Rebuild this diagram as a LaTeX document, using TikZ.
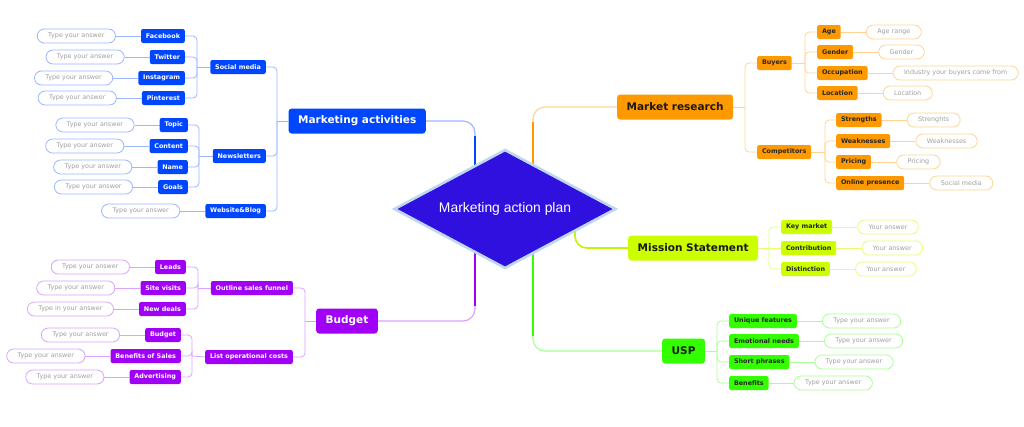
\documentclass[tikz,border=0pt]{standalone}
\usepackage{fontspec}
\setmainfont{DejaVu Sans}
\newfontfamily\planfont{Liberation Sans}
\usetikzlibrary{positioning,shapes.geometric,backgrounds}

\definecolor{planfill}{HTML}{2F10DF}
\definecolor{planedge}{HTML}{BDD7EE}
\definecolor{mablue}{HTML}{0046FF}
\definecolor{malight}{HTML}{9CB6FF}
\definecolor{bdpurple}{HTML}{A000F5}
\definecolor{bdlight}{HTML}{D9A3FF}
\definecolor{mrorange}{HTML}{FF9900}
\definecolor{mrlight}{HTML}{FFD493}
\definecolor{mslime}{HTML}{CCFF00}
\definecolor{mslight}{HTML}{E3FF73}
\definecolor{uspgreen}{HTML}{33FF00}
\definecolor{usplight}{HTML}{A8FF94}
\definecolor{anstext}{HTML}{A0A0A0}

\begin{document}
\begin{tikzpicture}[x=1pt, y=-1pt, node distance=25pt]

    % Estilos
    \tikzset{
        plan/.style={diamond, aspect=1.85, minimum width=222pt, minimum height=119pt,
            inner sep=0pt, fill=planfill, draw=planedge, line width=2.6pt, text=white,
            font=\planfont\fontsize{13.9}{15}\selectfont},
        topic/.style={rounded corners=3pt, inner xsep=9.5pt, inner ysep=0pt, minimum height=25pt,
            font=\fontsize{10.5}{12}\selectfont\bfseries},
        leaf/.style={rounded corners=2pt, inner xsep=4.8pt, inner ysep=0pt, minimum height=14pt,
            font=\fontsize{6.4}{7}\selectfont\bfseries},
        answer/.style={draw, line width=0.8pt, rounded corners=7pt, inner xsep=11pt, inner ysep=0pt,
            minimum height=14pt, fill=white, text=anstext, font=\fontsize{6.4}{7}\selectfont},
        twig/.style={line width=0.8pt, rounded corners=4pt},
        limb/.style={line width=1.2pt, rounded corners=12pt},
        trunk/.style={line width=2.2pt},
        elbow/.style={to path={|- (\tikztotarget)}}
    }
    \useasboundingbox (0,0) rectangle (1024,426);

    % Nodo central
    \node[plan] (plan) at (505,209) {Marketing action plan};

    % Marketing activities
    \node[topic, fill=mablue, text=white, anchor=east] (ma) at (426,121) {Marketing activities};
    \node[leaf, fill=mablue, text=white, anchor=east] (sm) at (266,67) {Social media};
    \node[leaf, fill=mablue, text=white, anchor=east] (nl) at (266,156) {Newsletters};
    \node[leaf, fill=mablue, text=white, anchor=east] (wb) at (266,211) {Website\&Blog};
    \node[leaf, fill=mablue, text=white, anchor=east] (fb) at (185,36) {Facebook};
    \node[leaf, fill=mablue, text=white, anchor=east] (tw) at (185,57) {Twitter};
    \node[leaf, fill=mablue, text=white, anchor=east] (ig) at (185,78) {Instagram};
    \node[leaf, fill=mablue, text=white, anchor=east] (pi) at (185,98) {Pinterest};
    \node[leaf, fill=mablue, text=white, anchor=east] (tp) at (188,125) {Topic};
    \node[leaf, fill=mablue, text=white, anchor=east] (ct) at (188,146) {Content};
    \node[leaf, fill=mablue, text=white, anchor=east] (nm) at (188,167) {Name};
    \node[leaf, fill=mablue, text=white, anchor=east] (gl) at (188,187) {Goals};
    \node[answer, draw=malight, left=of fb] (fba) {Type your answer};
    \node[answer, draw=malight, left=of tw] (twa) {Type your answer};
    \node[answer, draw=malight, left=of ig] (iga) {Type your answer};
    \node[answer, draw=malight, left=of pi] (pia) {Type your answer};
    \node[answer, draw=malight, left=of tp] (tpa) {Type your answer};
    \node[answer, draw=malight, left=of ct] (cta) {Type your answer};
    \node[answer, draw=malight, left=of nm] (nma) {Type your answer};
    \node[answer, draw=malight, left=of gl] (gla) {Type your answer};
    \node[answer, draw=malight, left=of wb] (wba) {Type your answer};
    \coordinate (jma) at (277,121);
    \coordinate (jsm) at (197,67);
    \coordinate (jnl) at (199,156);
    \coordinate (kma) at (475,136);
    \coordinate (pma) at (475,209);

    % Budget
    \node[topic, fill=bdpurple, text=white, anchor=east] (bd) at (378,321) {Budget};
    \node[leaf, fill=bdpurple, text=white, anchor=east] (sf) at (293,288) {Outline sales funnel};
    \node[leaf, fill=bdpurple, text=white, anchor=east] (oc) at (293,357) {List operational costs};
    \node[leaf, fill=bdpurple, text=white, anchor=east] (ld) at (186,267) {Leads};
    \node[leaf, fill=bdpurple, text=white, anchor=east] (sv) at (186,288) {Site visits};
    \node[leaf, fill=bdpurple, text=white, anchor=east] (nd) at (186,309) {New deals};
    \node[leaf, fill=bdpurple, text=white, anchor=east] (bg) at (181,335) {Budget};
    \node[leaf, fill=bdpurple, text=white, anchor=east] (bs) at (181,356) {Benefits of Sales};
    \node[leaf, fill=bdpurple, text=white, anchor=east] (ad) at (181,377) {Advertising};
    \node[answer, draw=bdlight, left=of ld] (lda) {Type your answer};
    \node[answer, draw=bdlight, left=of sv] (sva) {Type your answer};
    \node[answer, draw=bdlight, left=of nd] (nda) {Type in your answer};
    \node[answer, draw=bdlight, left=of bg] (bga) {Type your answer};
    \node[answer, draw=bdlight, left=of bs] (bsa) {Type your answer};
    \node[answer, draw=bdlight, left=of ad] (ada) {Type your answer};
    \coordinate (jbd) at (305,321);
    \coordinate (jsf) at (198,288);
    \coordinate (joc) at (192,356);
    \coordinate (kbd) at (475,306);
    \coordinate (pbd) at (475,209);

    % Market research
    \node[topic, fill=mrorange, text=black!90, anchor=west] (mr) at (617,107) {Market research};
    \node[leaf, fill=mrorange, text=black!85, anchor=west] (by) at (757,63) {Buyers};
    \node[leaf, fill=mrorange, text=black!85, anchor=west] (cp) at (757,152) {Competitors};
    \node[leaf, fill=mrorange, text=black!85, anchor=west] (ag) at (817,32) {Age};
    \node[leaf, fill=mrorange, text=black!85, anchor=west] (gd) at (817,52) {Gender};
    \node[leaf, fill=mrorange, text=black!85, anchor=west] (oo) at (817,73) {Occupation};
    \node[leaf, fill=mrorange, text=black!85, anchor=west] (lc) at (817,93) {Location};
    \node[leaf, fill=mrorange, text=black!85, anchor=west] (st) at (836,120) {Strengths};
    \node[leaf, fill=mrorange, text=black!85, anchor=west] (wk) at (836,141) {Weaknesses};
    \node[leaf, fill=mrorange, text=black!85, anchor=west] (pr) at (836,162) {Pricing};
    \node[leaf, fill=mrorange, text=black!85, anchor=west] (op) at (836,183) {Online presence};
    \node[answer, draw=mrlight, right=of ag] (aga) {Age range};
    \node[answer, draw=mrlight, right=of gd] (gda) {Gender};
    \node[answer, draw=mrlight, right=of oo] (ooa) {Industry your buyers come from};
    \node[answer, draw=mrlight, right=of lc] (lca) {Location};
    \node[answer, draw=mrlight, right=of st] (sta) {Strenghts};
    \node[answer, draw=mrlight, right=of wk] (wka) {Weaknesses};
    \node[answer, draw=mrlight, right=of pr] (pra) {Pricing};
    \node[answer, draw=mrlight, right=of op] (opa) {Social media};
    \coordinate (jmr) at (745,107);
    \coordinate (jby) at (805,63);
    \coordinate (jcp) at (825,152);
    \coordinate (kmr) at (533,122);
    \coordinate (pmr) at (533,209);

    % Mission Statement
    \node[topic, fill=mslime, text=black!90, anchor=west] (ms) at (628,248) {Mission Statement};
    \node[leaf, fill=mslime, text=black!85, anchor=west] (km) at (781,227) {Key market};
    \node[leaf, fill=mslime, text=black!85, anchor=west] (cb) at (781,248) {Contribution};
    \node[leaf, fill=mslime, text=black!85, anchor=west] (dt) at (781,269) {Distinction};
    \node[answer, draw=mslight, right=of km] (kma2) {Your answer};
    \node[answer, draw=mslight, right=of cb] (cba) {Your answer};
    \node[answer, draw=mslight, right=of dt] (dta) {Your answer};
    \coordinate (jms) at (769,248);
    \coordinate (pms) at (575,209);

    % USP
    \node[topic, fill=uspgreen, text=black!90, anchor=west] (usp) at (662,351) {USP};
    \node[leaf, fill=uspgreen, text=black!85, anchor=west] (uf) at (729,321) {Unique features};
    \node[leaf, fill=uspgreen, text=black!85, anchor=west] (en) at (729,341) {Emotional needs};
    \node[leaf, fill=uspgreen, text=black!85, anchor=west] (sp) at (729,362) {Short phrases};
    \node[leaf, fill=uspgreen, text=black!85, anchor=west] (bn) at (729,383) {Benefits};
    \node[answer, draw=usplight, right=of uf] (ufa) {Type your answer};
    \node[answer, draw=usplight, right=of en] (ena) {Type your answer};
    \node[answer, draw=usplight, right=of sp] (spa) {Type your answer};
    \node[answer, draw=usplight, right=of bn] (bna) {Type your answer};
    \coordinate (jusp) at (717,351);
    \coordinate (kusp) at (533,336);
    \coordinate (pusp) at (533,209);

    % Conexiones
    \begin{scope}[on background layer]
        \draw[limb, malight] (ma.east) -| (pma);
        \draw[trunk, mablue] (kma) -- (pma);
        \draw[limb, bdlight] (bd.east) -| (pbd);
        \draw[trunk, bdpurple] (kbd) -- (pbd);
        \draw[limb, mrlight] (mr.west) -| (pmr);
        \draw[trunk, mrorange] (kmr) -- (pmr);
        \draw[limb, line width=1.6pt, mslime!80!black!20!mslime] (ms.west) -| (pms);
        \draw[limb, usplight] (usp.west) -| (pusp);
        \draw[trunk, uspgreen] (kusp) -- (pusp);

        \path[twig, draw=malight]
            (ma.west) edge (jma)
            (jma) edge[elbow] (sm.east)
            (jma) edge[elbow] (nl.east)
            (jma) edge[elbow] (wb.east)
            (sm.west) edge (jsm)
            (jsm) edge[elbow] (fb.east)
            (jsm) edge[elbow] (tw.east)
            (jsm) edge[elbow] (ig.east)
            (jsm) edge[elbow] (pi.east)
            (nl.west) edge (jnl)
            (jnl) edge[elbow] (tp.east)
            (jnl) edge[elbow] (ct.east)
            (jnl) edge[elbow] (nm.east)
            (jnl) edge[elbow] (gl.east)
            (fb) edge (fba) (tw) edge (twa) (ig) edge (iga) (pi) edge (pia)
            (tp) edge (tpa) (ct) edge (cta) (nm) edge (nma) (gl) edge (gla)
            (wb) edge (wba);

        \path[twig, draw=bdlight]
            (bd.west) edge (jbd)
            (jbd) edge[elbow] (sf.east)
            (jbd) edge[elbow] (oc.east)
            (sf.west) edge (jsf)
            (jsf) edge[elbow] (ld.east)
            (jsf) edge[elbow] (sv.east)
            (jsf) edge[elbow] (nd.east)
            (oc.west) edge (joc)
            (joc) edge[elbow] (bg.east)
            (joc) edge[elbow] (bs.east)
            (joc) edge[elbow] (ad.east)
            (ld) edge (lda) (sv) edge (sva) (nd) edge (nda)
            (bg) edge (bga) (bs) edge (bsa) (ad) edge (ada);

        \path[twig, draw=mrlight]
            (mr.east) edge (jmr)
            (jmr) edge[elbow] (by.west)
            (jmr) edge[elbow] (cp.west)
            (by.east) edge (jby)
            (jby) edge[elbow] (ag.west)
            (jby) edge[elbow] (gd.west)
            (jby) edge[elbow] (oo.west)
            (jby) edge[elbow] (lc.west)
            (cp.east) edge (jcp)
            (jcp) edge[elbow] (st.west)
            (jcp) edge[elbow] (wk.west)
            (jcp) edge[elbow] (pr.west)
            (jcp) edge[elbow] (op.west)
            (ag) edge (aga) (gd) edge (gda) (oo) edge (ooa) (lc) edge (lca)
            (st) edge (sta) (wk) edge (wka) (pr) edge (pra) (op) edge (opa);

        \path[twig, draw=mslight]
            (ms.east) edge (jms)
            (jms) edge[elbow] (km.west)
            (jms) edge[elbow] (dt.west)
            (cb) edge (jms)
            (km) edge (kma2) (cb) edge (cba) (dt) edge (dta);

        \path[twig, draw=usplight]
            (usp.east) edge (jusp)
            (jusp) edge[elbow] (uf.west)
            (jusp) edge[elbow] (en.west)
            (jusp) edge[elbow] (sp.west)
            (jusp) edge[elbow] (bn.west)
            (uf) edge (ufa) (en) edge (ena) (sp) edge (spa) (bn) edge (bna);
    \end{scope}
\end{tikzpicture}
\end{document}
